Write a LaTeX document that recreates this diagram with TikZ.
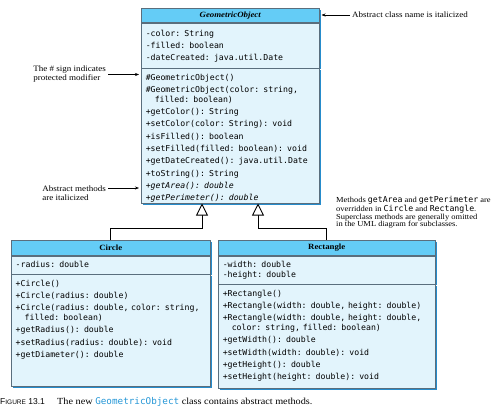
\documentclass[tikz,border=0pt]{standalone}
\usepackage{fontspec}
\setmainfont{Liberation Serif}[FakeStretch=1.1]
\setmonofont{DejaVu Sans Mono}
\newfontfamily\capfont{Liberation Sans}
\usepackage{tikz}
\usetikzlibrary{arrows.meta, positioning, shadows, calc}
\definecolor{HeadBlue}{RGB}{100,204,246}
\definecolor{BodyBlue}{RGB}{226,244,252}
\definecolor{EdgeBlue}{RGB}{38,140,204}
\definecolor{LineGray}{RGB}{90,110,125}
\definecolor{CodeBlue}{RGB}{36,150,214}

\begin{document}
\begin{tikzpicture}[x=1pt, y=-1pt,
  head/.style={draw=LineGray, line width=0.5pt, fill=HeadBlue, inner sep=0pt,
               anchor=north west, font=\fontsize{8}{9}\selectfont\bfseries,
               drop shadow={shadow xshift=1.3pt, shadow yshift=-1.3pt, fill=EdgeBlue, opacity=1}},
  sect/.style={draw=LineGray, line width=0.5pt, fill=BodyBlue, inner xsep=4.5pt, inner ysep=0pt,
               text height=11.8pt, align=left, anchor=north west,
               font=\ttfamily\fontsize{8.2}{12.3}\selectfont,
               drop shadow={shadow xshift=1.3pt, shadow yshift=-1.3pt, fill=EdgeBlue, opacity=1}},
  note/.style={font=\fontsize{8.2}{9}\selectfont, align=left, inner sep=2pt},
  inherit/.style={-{Triangle[open, fill=white, length=12pt, width=12pt]}, line width=0.9pt, black},
  pointer/.style={-{Stealth[length=4pt, width=3pt]}, line width=0.5pt, black, shorten >=2pt},
]
\useasboundingbox (0,0) rectangle (503,408);

% superclass
\node[head, minimum width=178pt, minimum height=14pt] (geoHead) at (141,8) {\itshape GeometricObject};
\node[sect, text width=169pt, text height=13.5pt, text depth=31.5pt] (geoAttr) at (geoHead.south west)
  {-color: String\\-filled: boolean\\-dateCreated: java.util.Date};
\node[sect, text width=169pt, text depth=123.2pt] (geoMeth) at (geoAttr.south west)
  {\#GeometricObject()\\
   \#GeometricObject(color: string,\\[-2.3pt]
   \hspace*{9pt}filled: boolean)\\
   +getColor(): String\\
   +setColor(color: String): void\\
   +isFilled(): boolean\\
   +setFilled(filled: boolean): void\\
   +getDateCreated(): java.util.Date\\
   +toString(): String\\
   \textit{+getArea(): double}\\
   \textit{+getPerimeter(): double}};

% subclasses
\node[head, minimum width=199pt, minimum height=15pt] (circHead) at (11,240) {Circle};
\node[sect, text width=190pt, text depth=6.2pt] (circAttr) at (circHead.south west) {-radius: double};
\node[sect, text width=190pt, text depth=100.2pt] (circMeth) at (circAttr.south west)
  {+Circle()\\
   +Circle(radius: double)\\
   +Circle(radius: double, color: string,\\[-2.3pt]
   \hspace*{9pt}filled: boolean)\\
   +getRadius(): double\\
   +setRadius(radius: double): void\\
   +getDiameter(): double};

\node[head, minimum width=217pt, minimum height=15pt] (rectHead) at (218,240) {Rectangle};
\node[sect, text width=208pt, text depth=16.2pt] (rectAttr) at (rectHead.south west)
  {-width: double\\[-2.3pt]-height: double};
\node[sect, text width=208pt, text depth=92.2pt] (rectMeth) at (rectAttr.south west)
  {+Rectangle()\\
   +Rectangle(width: double, height: double)\\
   +Rectangle(width: double, height: double,\\[-2.3pt]
   \hspace*{9pt}color: string, filled: boolean)\\
   +getWidth(): double\\
   +setWidth(width: double): void\\
   +getHeight(): double\\
   +setHeight(height: double): void};

% inheritance
\coordinate (inhL) at ([xshift=61pt]geoMeth.south west);
\coordinate (inhR) at ([xshift=117pt]geoMeth.south west);
\draw[inherit] (circHead.north) |- ($(inhL)+(0,25)$) -- (inhL);
\draw[inherit] (rectHead.north) |- ($(inhR)+(0,25)$) -- (inhR);

% notes
\node[note, anchor=west] (noteAbstract) at (350,15) {Abstract class name is italicized};
\draw[pointer] (noteAbstract.west) -- (noteAbstract.west -| geoHead.east);

\node[note, anchor=east] (noteHash) at (108,74.5) {The \# sign indicates\\protected modifier};
\draw[pointer] (noteHash.east) -- (noteHash.east -| geoMeth.west);

\node[note, anchor=east] (noteItalic) at (108,193) {Abstract methods\\are italicized};
\coordinate (italFrom) at ([yshift=5pt]noteItalic.east);
\draw[pointer] (italFrom) -- (italFrom -| geoMeth.west);

\node[note, anchor=north west, font=\fontsize{7.7}{7.6}\selectfont] (noteOverride) at (334,194)
  {Methods {\fontsize{8.2}{7.6}\selectfont\ttfamily getArea} and {\fontsize{8.2}{7.6}\selectfont\ttfamily getPerimeter} are\\
   overridden in {\fontsize{8.2}{7.6}\selectfont\ttfamily Circle} and {\fontsize{8.2}{7.6}\selectfont\ttfamily Rectangle}.\\
   Superclass methods are generally omitted\\
   in the UML diagram for subclasses.};

% caption
\node[anchor=west, inner sep=0pt, font=\capfont\fontsize{8.5}{10}\selectfont] (capLabel) at (0,402)
  {F{\fontsize{6.5}{7}\selectfont IGURE} 13.1};
\node[anchor=west, inner sep=0pt, font=\fontsize{9.3}{10}\selectfont] (capText) at (57,402)
  {The new \textcolor{CodeBlue}{\texttt{GeometricObject}} class contains abstract methods.};
\end{tikzpicture}
\end{document}
